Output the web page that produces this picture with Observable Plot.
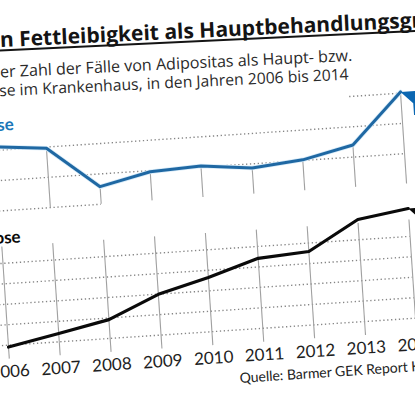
<!DOCTYPE html>
<html><head><meta charset="utf-8">
<script src="https://cdn.jsdelivr.net/npm/d3@7"></script>
<script src="https://cdn.jsdelivr.net/npm/@observablehq/plot@0.6"></script>
<style>
html,body{margin:0;padding:0;background:#fff;}
#stage{position:relative;width:415px;height:405px;overflow:hidden;background:#fff;font-family:Lato,"Open Sans",sans-serif;}
#header{position:absolute;left:0;top:0;transform-origin:0 0;transform:rotate(-2.7deg);overflow:visible;font-family:"Open Sans",sans-serif;}
#chart{position:absolute;left:0;top:0;width:700px;height:460px;transform-origin:0 0;transform:rotate(-3.8deg);}
#chart .panel{position:absolute;left:-60px;}
#upper{top:80px;}
#lower{top:220px;}
#source{position:absolute;left:214px;top:383.6px;font-size:14px;line-height:18px;white-space:nowrap;color:#222;}
</style></head>
<body><div id="stage">
<svg id="header" width="700" height="120">
  <text id="title" y="47" font-size="21" font-weight="700" fill="#141414"><tspan class="pre">Krankenhausbehandlungen wege</tspan><tspan>n Fettleibigkeit als Hauptbehandlungsgrund</tspan></text>
  <line x1="-60" x2="700" y1="50.4" y2="50.4" stroke="#141414" stroke-width="2"></line>
  <text id="sub1" y="77.4" font-size="16.1" fill="#2a2a2a"><tspan class="pre">Entwicklung d</tspan><tspan>er Zahl der Fälle von Adipositas als Haupt- bzw.</tspan></text>
  <text id="sub2" y="96" font-size="15.7" fill="#2a2a2a"><tspan class="pre">Nebendiagno</tspan><tspan>se im Krankenhaus, in den Jahren 2006 bis 2014</tspan></text>
</svg>
<div id="chart">
  <div id="upper" class="panel"></div>
  <div id="lower" class="panel"></div>
  <div id="source">Quelle: Barmer GEK Report Krankenhaus 2015</div>
</div>
</div>
<script>
// ---- data ----
const years = [2006, 2007, 2008, 2009, 2010, 2011, 2012, 2013, 2014];
const tickLabels = ["2006", "2007", "2008", "2009", "2010", "2011", "2012", "2013", "2014"];
const seriesNames = ["Hauptdiagnose", "Nebendiagnose"];
const hauptdiagnose = [30.6, 29.8, 22.9, 24.8, 25.2, 24.3, 25.1, 27.0, 35.2];
const nebendiagnose = [39.1, 44.1, 49.2, 59.9, 66.5, 74.2, 75.9, 89.9, 93.6];
const upperGridValues = [20, 25, 30, 35];
const upperGridFrom = [2006, 2006, 2006, 2013];
const upperGridTo = [2008, 2014, 2014, 2014];
const lowerGridValues = [40, 50, 60, 70, 80];

// ---- header text placement (left part is cropped) ----
const starts = {title: -2, sub1: -3.4, sub2: -5};
for (const id of Object.keys(starts)) {
  const t = document.getElementById(id);
  const pre = t.querySelector(".pre");
  t.setAttribute("x", starts[id] - pre.getComputedTextLength());
}

const blue = "#1f68a3";
const calloutBlue = "#0b67b2";
const gridStroke = "#858585";
const dash = "1.3,2.6";
const vStroke = "#a0a0a0";

const callout = {
  draw(ctx) {
    ctx.moveTo(0, 0);
    ctx.lineTo(60, 0);
    ctx.lineTo(60, 24);
    ctx.lineTo(12, 24);
    ctx.lineTo(12, 12);
    ctx.closePath();
  }
};

const hData = years.map((y, i) => ({year: y, value: hauptdiagnose[i]}));
const nData = years.map((y, i) => ({year: y, value: nebendiagnose[i]}));
const uGrid = upperGridValues.map((v, i) => ({v, from: upperGridFrom[i], to: upperGridTo[i]}));

const W = 540;
const xRange = [45, 453];
const commonStyle = {background: "transparent", maxWidth: "none", overflow: "visible", fontFamily: "Lato, sans-serif"};

const upper = Plot.plot({
  width: W, height: 150,
  marginLeft: 0, marginRight: W - xRange[1], marginTop: 39, marginBottom: 20,
  style: commonStyle,
  x: {domain: [2006, 2014], range: xRange, axis: null},
  y: {domain: [20, 35], axis: null},
  marks: [
    Plot.ruleY(uGrid, {y: "v", x1: "from", x2: "to", stroke: gridStroke, strokeWidth: 1.4, strokeDasharray: dash}),
    Plot.ruleX(hData, {x: "year", y1: "value", y2: 20, stroke: vStroke, strokeWidth: 1.1}),
    Plot.line(hData, {x: "year", y: "value", stroke: "#d9ecf9", strokeWidth: 4.6, strokeLinejoin: "round"}),
    Plot.line(hData, {x: "year", y: "value", stroke: blue, strokeWidth: 3, strokeLinejoin: "round"}),
    Plot.dot(hData.slice(-1), {x: "year", y: "value", symbol: callout, fill: calloutBlue, stroke: "none", r: 4}),
    Plot.text([seriesNames[0]], {frameAnchor: "top-left", text: d => d, textAnchor: "end", lineAnchor: "middle", dx: 65, dy: 5.6, fontSize: 17, fontWeight: 700, fill: "#1b77b8"})
  ]
});
document.getElementById("upper").appendChild(upper);

const lower = Plot.plot({
  width: W, height: 185,
  marginLeft: 0, marginRight: W - xRange[1], marginTop: 42.5, marginBottom: 60.5,
  style: commonStyle,
  x: {domain: [2006, 2014], range: xRange, axis: null},
  y: {domain: [40, 80], axis: null},
  marks: [
    Plot.ruleY(lowerGridValues, {stroke: gridStroke, strokeWidth: 1.4, strokeDasharray: dash}),
    Plot.ruleX(years, {x: d => d, y1: 88, y2: 33.2, stroke: vStroke, strokeWidth: 1.1}),
    Plot.line(nData, {x: "year", y: "value", stroke: "#0a0a0a", strokeWidth: 3.2, strokeLinejoin: "round"}),
    Plot.dot(nData.slice(-1), {x: "year", y: "value", symbol: callout, fill: "#0a0a0a", stroke: "none", r: 4}),
    Plot.text([seriesNames[1]], {frameAnchor: "top-left", text: d => d, textAnchor: "end", lineAnchor: "middle", dx: 64.3, dy: -25.3, fontSize: 17, fontWeight: 700, fill: "#0a0a0a"}),
    Plot.axisX({anchor: "bottom", ticks: years, tickFormat: (d) => tickLabels[years.indexOf(d)], tickSize: 0, tickPadding: 20, fontSize: 17, fill: "#1e1e1e"})
  ]
});
document.getElementById("lower").appendChild(lower);
</script>
</body></html>
